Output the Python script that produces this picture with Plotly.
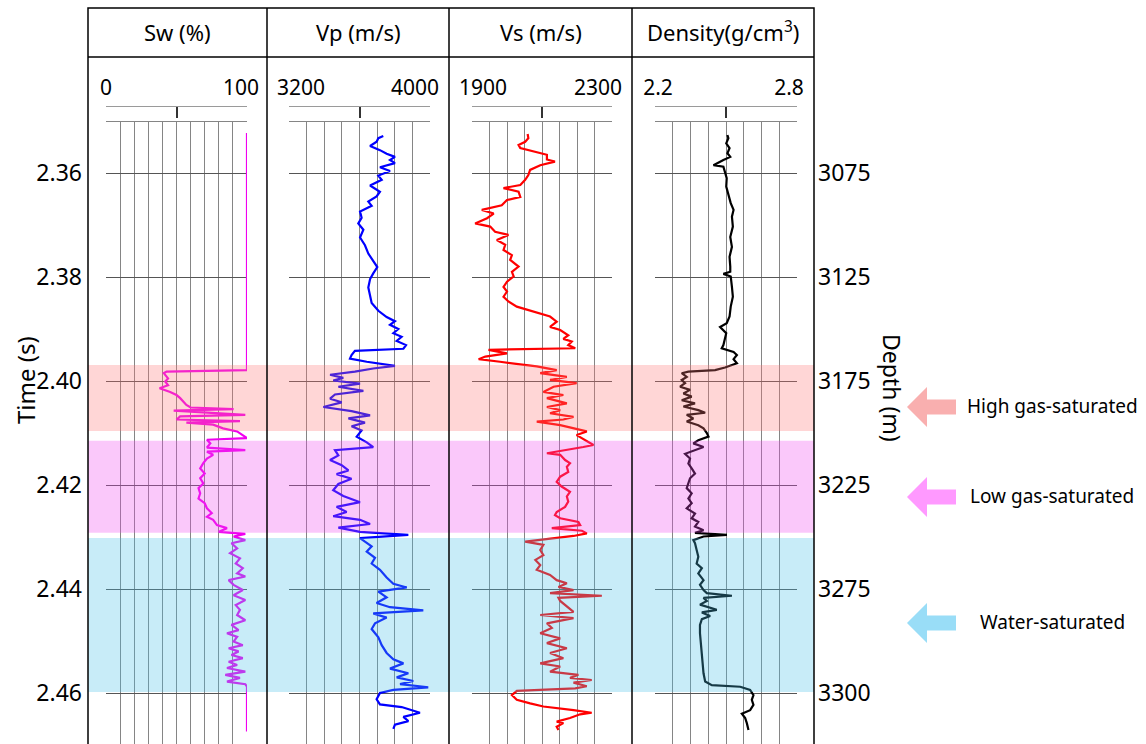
import plotly.graph_objects as go
import numpy as np

# ---------------- data ----------------
sw_t = [2.3523, 2.3979, 2.3982, 2.3985, 2.3995, 2.4001, 2.4008, 2.4014, 2.4021, 2.4027, 2.4033,
        2.4040, 2.4046, 2.4051, 2.4054, 2.4057, 2.4060, 2.4065, 2.4068, 2.4074, 2.4077, 2.4080,
        2.4084, 2.4091, 2.4097, 2.4104, 2.4110, 2.4113, 2.4120, 2.4128, 2.4133, 2.4136, 2.4142,
        2.4149, 2.4158, 2.4168, 2.4178, 2.4187, 2.4197, 2.4206, 2.4216, 2.4226, 2.4235, 2.4245,
        2.4254, 2.4261, 2.4267, 2.4277, 2.4283, 2.4290, 2.4294, 2.4299, 2.4306, 2.4312, 2.4322,
        2.4331, 2.4341, 2.4351, 2.4360, 2.4370, 2.4376, 2.4383, 2.4392, 2.4402, 2.4412, 2.4421,
        2.4431, 2.4440, 2.4450, 2.4460, 2.4469, 2.4479, 2.4485, 2.4492, 2.4501, 2.4508, 2.4514,
        2.4520, 2.4527, 2.4533, 2.4540, 2.4546, 2.4552, 2.4559, 2.4565, 2.4571, 2.4578, 2.4583,
        2.4588, 2.4674]
sw_v = [100, 100, 43, 41, 44, 42, 44, 38, 45.5, 50, 52.6,
        55, 57, 60, 90.5, 48, 64.5, 98.8, 52.6, 50, 95, 57,
        76, 83, 93, 97, 100, 71.6, 74, 71.6, 98.8, 71.6, 76,
        71.6, 69, 66.8, 70, 66.8, 69, 65.6, 66.8, 65.6, 70, 71.6,
        75, 71.6, 76, 78.7, 85.8, 80, 98.8, 90.5, 98.8, 89, 93,
        88, 95, 92, 97, 93, 98.8, 87, 90.5, 97, 90.5, 98.8,
        92, 95, 93, 98.8, 89, 94, 85.8, 93, 90.5, 97, 87,
        94, 89, 97, 87, 93, 85.8, 98.8, 84.6, 95, 85.8, 98.8,
        100, 100]

vp_t = [2.3529, 2.3533, 2.3540, 2.3548, 2.3556, 2.3563, 2.3569, 2.3575, 2.3581, 2.3589, 2.3596,
        2.3605, 2.3613, 2.3624, 2.3636, 2.3645, 2.3655, 2.3663, 2.3674, 2.3686, 2.3697, 2.3709,
        2.3724, 2.3739, 2.3755, 2.3770, 2.3781, 2.3793, 2.3804, 2.3820, 2.3835, 2.3850, 2.3865,
        2.3877, 2.3885, 2.3892, 2.3900, 2.3908, 2.3915, 2.3923, 2.3931, 2.3938, 2.3942, 2.3950,
        2.3957, 2.3963, 2.3971, 2.3976, 2.3982, 2.3988, 2.3994, 2.3999, 2.4005, 2.4011, 2.4019,
        2.4026, 2.4034, 2.4041, 2.4050, 2.4058, 2.4066, 2.4072, 2.4080, 2.4087, 2.4095, 2.4107,
        2.4118, 2.4127, 2.4133, 2.4143, 2.4152, 2.4162, 2.4172, 2.4179, 2.4188, 2.4198, 2.4210,
        2.4221, 2.4233, 2.4242, 2.4252, 2.4260, 2.4267, 2.4275, 2.4282, 2.4290, 2.4296, 2.4302,
        2.4309, 2.4318, 2.4328, 2.4340, 2.4351, 2.4363, 2.4378, 2.4390, 2.4397, 2.4405, 2.4416,
        2.4427, 2.4435, 2.4441, 2.4447, 2.4455, 2.4466, 2.4477, 2.4493, 2.4508, 2.4523, 2.4535,
        2.4543, 2.4553, 2.4562, 2.4570, 2.4577, 2.4583, 2.4589, 2.4594, 2.4600, 2.4612, 2.4622,
        2.4627, 2.4638, 2.4646, 2.4654, 2.4661, 2.4669]
vp_v = [3735, 3707, 3697, 3660, 3716, 3754, 3801, 3773, 3801, 3716, 3773,
        3707, 3726, 3660, 3716, 3697, 3650, 3669, 3603, 3612, 3593, 3622,
        3603, 3631, 3650, 3678, 3701, 3678, 3660, 3650, 3660, 3669, 3707,
        3754, 3801, 3773, 3820, 3792, 3839, 3811, 3864, 3849, 3574, 3555,
        3546, 3641, 3801, 3678, 3574, 3433, 3508, 3451, 3603, 3480, 3622,
        3461, 3433, 3499, 3395, 3555, 3660, 3537, 3631, 3555, 3612, 3584,
        3641, 3678, 3461, 3480, 3433, 3499, 3537, 3470, 3555, 3480, 3451,
        3508, 3603, 3470, 3527, 3451, 3603, 3660, 3480, 3603, 3877, 3603,
        3631, 3669, 3641, 3688, 3669, 3716, 3754, 3792, 3868, 3707, 3754,
        3697, 3773, 3962, 3678, 3754, 3688, 3669, 3707, 3726, 3754, 3792,
        3849, 3773, 3877, 3811, 3905, 3830, 3990, 3792, 3716, 3697, 3716,
        3839, 3943, 3849, 3877, 3801, 3792]

vs_t = [2.3525, 2.3533, 2.3540, 2.3546, 2.3552, 2.3559, 2.3565, 2.3574, 2.3578, 2.3585, 2.3594,
        2.3604, 2.3613, 2.3623, 2.3629, 2.3636, 2.3646, 2.3652, 2.3662, 2.3671, 2.3678, 2.3687,
        2.3697, 2.3703, 2.3713, 2.3719, 2.3729, 2.3738, 2.3748, 2.3758, 2.3767, 2.3780, 2.3790,
        2.3799, 2.3809, 2.3819, 2.3828, 2.3838, 2.3847, 2.3857, 2.3867, 2.3876, 2.3886, 2.3896,
        2.3902, 2.3912, 2.3919, 2.3924, 2.3931, 2.3937, 2.3940, 2.3947, 2.3953, 2.3958, 2.3963,
        2.3972, 2.3979, 2.3985, 2.3992, 2.3998, 2.4004, 2.4011, 2.4021, 2.4027, 2.4033, 2.4043,
        2.4050, 2.4056, 2.4062, 2.4069, 2.4074, 2.4078, 2.4085, 2.4091, 2.4097, 2.4104, 2.4113,
        2.4123, 2.4127, 2.4139, 2.4142, 2.4152, 2.4158, 2.4165, 2.4175, 2.4184, 2.4194, 2.4203,
        2.4213, 2.4222, 2.4232, 2.4242, 2.4252, 2.4258, 2.4264, 2.4271, 2.4277, 2.4283, 2.4288,
        2.4293, 2.4298, 2.4305, 2.4309, 2.4315, 2.4325, 2.4335, 2.4344, 2.4354, 2.4363, 2.4373,
        2.4383, 2.4389, 2.4396, 2.4402, 2.4408, 2.4413, 2.4417, 2.4423, 2.4434, 2.4444, 2.4450,
        2.4456, 2.4466, 2.4475, 2.4485, 2.4495, 2.4504, 2.4514, 2.4523, 2.4533, 2.4543, 2.4549,
        2.4559, 2.4565, 2.4571, 2.4575, 2.4580, 2.4587, 2.4591, 2.4596, 2.4604, 2.4613, 2.4620,
        2.4626, 2.4633, 2.4638, 2.4641, 2.4648, 2.4655, 2.4658, 2.4665, 2.4671]
vs_v = [2059, 2061, 2052, 2033, 2038, 2076, 2114, 2114, 2137, 2095, 2066,
        2061, 2052, 2038, 1990, 2033, 2038, 2000, 1985, 1928, 1962, 1943,
        1909, 1952, 1966, 2004, 1971, 1995, 1990, 2014, 2009, 2033, 2014,
        2019, 2000, 1990, 2000, 1990, 2004, 2028, 2076, 2123, 2142, 2123,
        2152, 2175, 2161, 2185, 2175, 2195, 1947, 2000, 1938, 1919, 1980,
        2085, 2142, 2095, 2171, 2123, 2199, 2133, 2104, 2161, 2114, 2171,
        2114, 2152, 2123, 2190, 2161, 2085, 2152, 2190, 2228, 2199, 2223,
        2247, 2218, 2114, 2152, 2166, 2180, 2171, 2175, 2152, 2142, 2156,
        2180, 2171, 2175, 2166, 2142, 2137, 2152, 2204, 2209, 2128, 2214,
        2228, 2190, 2095, 2052, 2104, 2095, 2104, 2081, 2095, 2085, 2123,
        2142, 2171, 2147, 2190, 2123, 2271, 2147, 2152, 2171, 2190, 2095,
        2190, 2114, 2128, 2095, 2152, 2114, 2171, 2123, 2161, 2095, 2152,
        2123, 2204, 2180, 2242, 2190, 2228, 2195, 2028, 2014, 2028, 2066,
        2104, 2190, 2242, 2209, 2180, 2142, 2161, 2142, 2147]

den_t = [2.3527, 2.3533, 2.3543, 2.3552, 2.3562, 2.3569, 2.3575, 2.3580, 2.3585, 2.3588, 2.3597,
         2.3610, 2.3626, 2.3642, 2.3658, 2.3671, 2.3684, 2.3703, 2.3723, 2.3742, 2.3761, 2.3780,
         2.3790, 2.3794, 2.3799, 2.3819, 2.3838, 2.3857, 2.3876, 2.3889, 2.3896, 2.3908, 2.3921,
         2.3931, 2.3937, 2.3944, 2.3950, 2.3958, 2.3966, 2.3974, 2.3979, 2.3982, 2.3985, 2.3992,
         2.3998, 2.4004, 2.4011, 2.4017, 2.4024, 2.4030, 2.4037, 2.4043, 2.4049, 2.4056, 2.4061,
         2.4065, 2.4072, 2.4078, 2.4085, 2.4091, 2.4100, 2.4107, 2.4114, 2.4120, 2.4127, 2.4133,
         2.4140, 2.4149, 2.4159, 2.4168, 2.4178, 2.4187, 2.4197, 2.4206, 2.4216, 2.4226, 2.4235,
         2.4245, 2.4255, 2.4264, 2.4271, 2.4280, 2.4287, 2.4292, 2.4296, 2.4299, 2.4306, 2.4312,
         2.4325, 2.4338, 2.4351, 2.4360, 2.4370, 2.4383, 2.4392, 2.4402, 2.4408, 2.4413, 2.4417,
         2.4423, 2.4430, 2.4440, 2.4445, 2.4452, 2.4458, 2.4469, 2.4485, 2.4504, 2.4523, 2.4543,
         2.4562, 2.4578, 2.4585, 2.4588, 2.4594, 2.4604, 2.4613, 2.4623, 2.4633, 2.4640, 2.4648,
         2.4658, 2.4671]
den_v = [2.506, 2.510, 2.501, 2.515, 2.506, 2.518, 2.489, 2.468, 2.447, 2.489, 2.496,
         2.503, 2.501, 2.510, 2.520, 2.532, 2.525, 2.529, 2.518, 2.525, 2.515, 2.518,
         2.518, 2.489, 2.520, 2.525, 2.529, 2.520, 2.515, 2.503, 2.475, 2.501, 2.496,
         2.489, 2.482, 2.532, 2.546, 2.532, 2.546, 2.496, 2.454, 2.341, 2.313, 2.334,
         2.313, 2.327, 2.306, 2.348, 2.320, 2.355, 2.313, 2.369, 2.320, 2.383, 2.412,
         2.334, 2.362, 2.334, 2.383, 2.405, 2.419, 2.426, 2.383, 2.362, 2.405, 2.369,
         2.327, 2.348, 2.341, 2.355, 2.369, 2.348, 2.341, 2.334, 2.355, 2.341, 2.355,
         2.334, 2.369, 2.355, 2.383, 2.369, 2.405, 2.369, 2.504, 2.405, 2.362, 2.369,
         2.376, 2.383, 2.376, 2.398, 2.383, 2.405, 2.390, 2.405, 2.419, 2.525, 2.405,
         2.419, 2.390, 2.461, 2.398, 2.433, 2.398, 2.390, 2.390, 2.393, 2.398, 2.400,
         2.405, 2.412, 2.440, 2.560, 2.602, 2.616, 2.609, 2.616, 2.602, 2.567, 2.581,
         2.588, 2.595]

track_titles = ["Sw (%)", "Vp (m/s)", "Vs (m/s)", "Density(g/cm<sup>3</sup>)"]
track_ranges = [(0, 100), (3200, 4000), (1900, 2300), (2.2, 2.8)]
track_labels = [("0", "100"), ("3200", "4000"), ("1900", "2300"), ("2.2", "2.8")]

time_ticks = [2.36, 2.38, 2.40, 2.42, 2.44, 2.46]
depth_labels = ["3075", "3125", "3175", "3225", "3275", "3300"]

zone_names = ["High gas-saturated", "Low gas-saturated", "Water-saturated"]
zone_top = [2.3969, 2.4115, 2.4302]
zone_bottom = [2.4096, 2.4292, 2.4598]

# ---------------- layout helpers ----------------
W, H = 1146, 744
FONT = "Noto Sans"


def fx(p):
    return p / W


def fy(p):
    return 1 - p / H


# time calibration of the plotting area
T_TOP = 2.36 + (122 - 173) / 5200.0
T_BOT = 2.36 + (H - 173) / 5200.0

grid_px = [(106, 247), (289, 430), (472, 612), (655, 797)]
ndiv = [10, 8, 8, 8]
label_shift = [(0, -6), (12, -15), (11, -14), (3, -8)]
colors = ["#F000F0", "#0000FF", "#FF0000", "#000000"]
series = [(sw_t, sw_v), (vp_t, vp_v), (vs_t, vs_v), (den_t, den_v)]
separators = [88, 267, 449, 632, 814]

fig = go.Figure()
layout = dict(
    width=W, height=H, margin=dict(l=0, r=0, t=0, b=0, pad=0, autoexpand=False),
    paper_bgcolor="white", plot_bgcolor="rgba(0,0,0,0)",
    showlegend=False, font=dict(family=FONT, color="black"),
)


def ghost(xa, ya, t, v):
    # invisible copy so that helper axes get a subplot
    fig.add_trace(go.Scatter(x=v, y=t, mode="lines", xaxis=xa, yaxis=ya, opacity=0,
                             line=dict(width=0.1), hoverinfo="skip"))


for i in range(4):
    n = "" if i == 0 else str(i + 1)
    lo, hi = track_ranges[i]
    gl, gr = grid_px[i]
    t, v = series[i]
    fig.add_trace(go.Scatter(x=v, y=t, mode="lines", xaxis="x" + n, yaxis="y",
                             line=dict(color=colors[i], width=2.2), hoverinfo="skip"))
    ghost("x" + str(i + 5), "y", t, v)
    ghost("x" + str(i + 9), "y", t, v)
    gridvals = list(np.linspace(lo, hi, ndiv[i] + 1))
    layout["xaxis" + n] = dict(
        domain=[fx(gl), fx(gr)], range=[lo, hi], anchor="y", side="bottom",
        tickmode="array", tickvals=gridvals, showticklabels=False, ticks="",
        showgrid=True, gridcolor="#858585", gridwidth=1, zeroline=False,
        showline=True, mirror=True, linecolor="#858585", linewidth=1, automargin=False,
    )
    # scale bar
    layout["xaxis" + str(i + 5)] = dict(
        overlaying="x" + n, range=[lo, hi], anchor="free", side="top",
        position=fy(106), tickmode="array", tickvals=[lo, (lo + hi) / 2, hi],
        showticklabels=False, ticks="inside", ticklen=11, tickwidth=1.5,
        tickcolor="#333", showline=True, linecolor="#9a9a9a", linewidth=1,
        showgrid=False, zeroline=False, automargin=False,
    )
    # scale labels
    span = (hi - lo) / (gr - gl)
    dl, dr = label_shift[i]
    layout["xaxis" + str(i + 9)] = dict(
        overlaying="x" + n, range=[lo, hi], anchor="free", side="top",
        position=fy(99), tickmode="array",
        tickvals=[lo + dl * span, hi + dr * span], ticktext=list(track_labels[i]),
        ticks="", showline=False, showgrid=False, zeroline=False, automargin=False,
        tickfont=dict(size=21, family=FONT, color="black"),
    )

ghost("x4", "y2", den_t, den_v)

layout["yaxis"] = dict(
    domain=[0, fy(122)], range=[T_BOT, T_TOP], anchor="free", position=fx(82),
    side="left", tickmode="array", tickvals=time_ticks,
    ticktext=["%.2f" % v for v in time_ticks], ticks="",
    showgrid=True, gridcolor="#555555", gridwidth=1, zeroline=False, showline=False,
    automargin=False, tickfont=dict(size=23, family=FONT, color="black"),
)
layout["yaxis2"] = dict(
    overlaying="y", range=[T_BOT, T_TOP], anchor="free", position=fx(817),
    side="right", tickmode="array", tickvals=time_ticks, ticktext=depth_labels,
    ticks="", showgrid=False, zeroline=False, showline=False, automargin=False,
    tickfont=dict(size=23, family=FONT, color="black"),
)

shapes = []
zone_fill = ["#FF7676", "#F048F0", "#48C0E8"]
for k in range(3):
    shapes.append(dict(type="rect", xref="paper", yref="y", x0=fx(88), x1=fx(814),
                       y0=zone_top[k], y1=zone_bottom[k], fillcolor=zone_fill[k],
                       opacity=0.3, line=dict(width=0), layer="above"))
# frame
shapes.append(dict(type="rect", xref="paper", yref="paper", x0=fx(88), x1=fx(814),
                   y0=fy(760), y1=fy(8), line=dict(color="black", width=1.5),
                   fillcolor="rgba(0,0,0,0)", layer="above"))
shapes.append(dict(type="line", xref="paper", yref="paper", x0=fx(88), x1=fx(814),
                   y0=fy(57), y1=fy(57), line=dict(color="black", width=1.5), layer="above"))
for s in separators[1:-1]:
    shapes.append(dict(type="line", xref="paper", yref="paper", x0=fx(s), x1=fx(s),
                       y0=fy(8), y1=fy(760), line=dict(color="black", width=1.5), layer="above"))

# arrows
arrow_colors = ["#F9AFAF", "#FF99FF", "#99DDF7"]
arrow_y = [407, 497, 623]


def arrow_path(tip, cy):
    pts = [(tip, cy), (tip + 20, cy - 20), (tip + 20, cy - 7.5), (tip + 49, cy - 7.5),
           (tip + 49, cy + 7.5), (tip + 20, cy + 7.5), (tip + 20, cy + 20)]
    return "M " + " L ".join("%.5f,%.5f" % (fx(a), fy(b)) for a, b in pts) + " Z"


for k in range(3):
    shapes.append(dict(type="path", xref="paper", yref="paper", path=arrow_path(907, arrow_y[k]),
                       fillcolor=arrow_colors[k], line=dict(width=0)))

annotations = []
centers = [(a + b) / 2 for a, b in zip(separators[:-1], separators[1:])]
for i in range(4):
    annotations.append(dict(text=track_titles[i], x=fx(centers[i]), y=fy(32), xref="paper",
                            yref="paper", showarrow=False, xanchor="center", yanchor="middle",
                            font=dict(size=22, family=FONT, color="black")))
for k in range(3):
    annotations.append(dict(text=zone_names[k], x=fx(1052), y=fy(arrow_y[k] - 1), xref="paper",
                            yref="paper", showarrow=False, xanchor="center", yanchor="middle",
                            font=dict(size=19, family=FONT, color="black")))
annotations.append(dict(text="Time (s)", x=fx(25), y=fy(380), xref="paper", yref="paper",
                        showarrow=False, textangle=-90, xanchor="center", yanchor="middle",
                        font=dict(size=24, family=FONT, color="black")))
annotations.append(dict(text="Depth (m)", x=fx(892), y=fy(388), xref="paper", yref="paper",
                        showarrow=False, textangle=90, xanchor="center", yanchor="middle",
                        font=dict(size=23, family=FONT, color="black")))

layout["shapes"] = shapes
layout["annotations"] = annotations
fig.update_layout(**layout)
fig.write_html("out.html")
